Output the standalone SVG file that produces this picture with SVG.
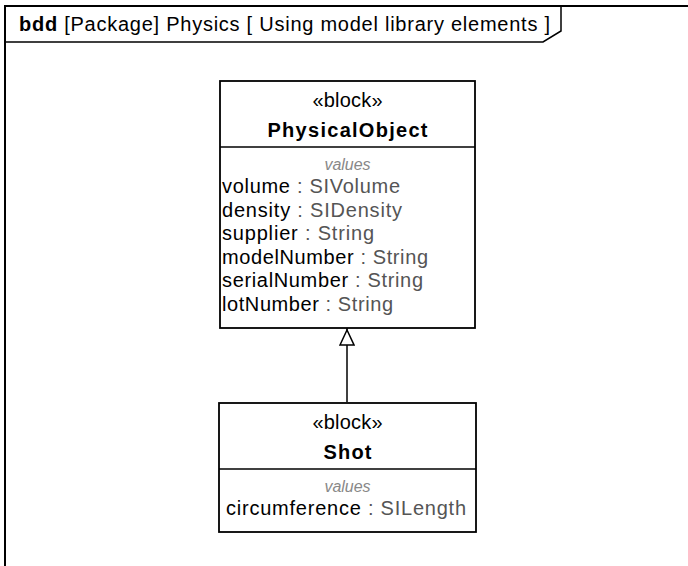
<svg xmlns="http://www.w3.org/2000/svg" width="688" height="566" viewBox="0 0 688 566">
<style>
text{font-family:"Liberation Sans",Arial,sans-serif;font-size:20px;fill:#000}
.b{font-weight:bold}
.c{text-anchor:middle}
.v{font-style:italic;fill:#888;font-size:16px}
.t{fill:#555}
.box{fill:#fff;stroke:#000;stroke-width:1.8}
.ln{stroke:#000;stroke-width:1.5;fill:none}
</style>
<defs>
<marker id="gen" markerWidth="20" markerHeight="16" refX="18" refY="8" orient="auto" markerUnits="userSpaceOnUse">
<path d="M1,1 L16,8 L1,15 Z" fill="#fff" stroke="#000" stroke-width="1.5"/>
</marker>
</defs>
<rect x="0" y="0" width="688" height="566" fill="#fff"/>
<g id="frame">
<rect x="5" y="6" width="700" height="600" fill="none" stroke="#000" stroke-width="2"/>
<path d="M5,42 L543,42 L561,31 L561,6" class="ln"/>
<text x="19" y="31" textLength="531" lengthAdjust="spacing"><tspan class="b">bdd</tspan> [Package] Physics [ Using model library elements ]</text>
</g>
<g id="connectors">
<line x1="347" y1="402" x2="347" y2="328" class="ln" marker-end="url(#gen)"/>
</g>
<g id="PhysicalObject">
<rect x="220" y="81" width="255" height="247" class="box"/>
<line x1="220" y1="147" x2="475" y2="147" class="ln"/>
<text x="347.5" y="107" class="c" textLength="70" lengthAdjust="spacing">«block»</text>
<text x="347.5" y="137" class="c b" textLength="160" lengthAdjust="spacing">PhysicalObject</text>
<text x="347.5" y="170" class="c v" textLength="46" lengthAdjust="spacing">values</text>
<text x="222" y="193" textLength="178" lengthAdjust="spacing">volume<tspan class="t"> : SIVolume</tspan></text>
<text x="222" y="216.5" textLength="180" lengthAdjust="spacing">density<tspan class="t"> : SIDensity</tspan></text>
<text x="222" y="240" textLength="152" lengthAdjust="spacing">supplier<tspan class="t"> : String</tspan></text>
<text x="222" y="263.5" textLength="206" lengthAdjust="spacing">modelNumber<tspan class="t"> : String</tspan></text>
<text x="222" y="287" textLength="201" lengthAdjust="spacing">serialNumber<tspan class="t"> : String</tspan></text>
<text x="222" y="310.5" textLength="171" lengthAdjust="spacing">lotNumber<tspan class="t"> : String</tspan></text>
</g>
<g id="Shot">
<rect x="219" y="403" width="257" height="129" class="box"/>
<line x1="219" y1="469" x2="476" y2="469" class="ln"/>
<text x="347.5" y="429" class="c" textLength="70" lengthAdjust="spacing">«block»</text>
<text x="347.5" y="459" class="c b" textLength="48" lengthAdjust="spacing">Shot</text>
<text x="347.5" y="492" class="c v" textLength="46" lengthAdjust="spacing">values</text>
<text x="226" y="515" textLength="240" lengthAdjust="spacing">circumference<tspan class="t"> : SILength</tspan></text>
</g>
</svg>
